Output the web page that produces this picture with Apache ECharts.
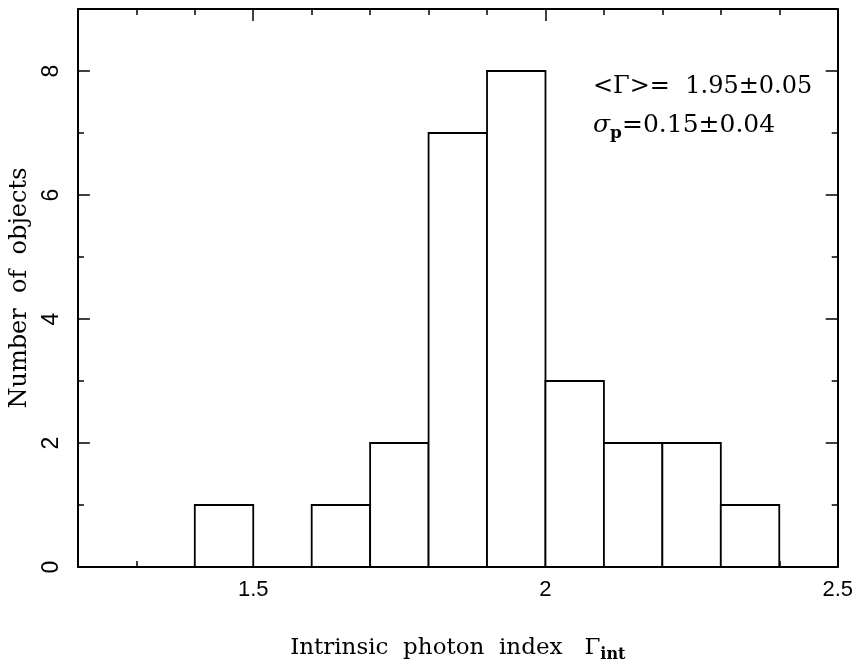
<!DOCTYPE html>
<html><head><meta charset="utf-8">
<script src="https://cdn.jsdelivr.net/npm/echarts@6/dist/echarts.min.js"></script>
<style>html,body{margin:0;padding:0;background:#fff}#c{width:856px;height:668px}</style>
</head><body><div id="c"></div>
<script>
const binLow = [1.4, 1.6, 1.7, 1.8, 1.9, 2.0, 2.1, 2.2, 2.3];
const binHigh = [1.5, 1.7, 1.8, 1.9, 2.0, 2.1, 2.2, 2.3, 2.4];
const counts = [1, 1, 2, 7, 8, 3, 2, 2, 1];
const xMajor = [1.5, 2, 2.5];
const xMinor = [1.3, 1.4, 1.6, 1.7, 1.8, 1.9, 2.1, 2.2, 2.3, 2.4];
const yMajor = [0, 2, 4, 6, 8];
const yMinor = [1, 3, 5, 7];
const xRange = [1.2, 2.5];
const yRange = [0, 9];

const chart = echarts.init(document.getElementById('c'));
const serif = '"DejaVu Serif", "Liberation Serif", serif';
const sans = '"Liberation Sans", Arial, sans-serif';
const lineStyle = {color:'#000', width:2};

function xAx(pos, ticks, len, showLine, label){
  return {
    type:'value', position:pos, min:xRange[0], max:xRange[1],
    axisLine:{show:showLine, onZero:false, lineStyle},
    axisTick:{show:true, inside:true, length:len, customValues:ticks, lineStyle:{color:'#000', width:1.5}},
    axisLabel: label ? {show:true, customValues:xMajor, margin:12, color:'#000', fontFamily:sans, fontSize:22,
       formatter: v => String(Math.round(v*10)/10)} : {show:false},
    splitLine:{show:false}
  };
}
function yAx(pos, ticks, len, showLine, label){
  return {
    type:'value', position:pos, min:yRange[0], max:yRange[1],
    axisLine:{show:showLine, onZero:false, lineStyle},
    axisTick:{show:true, inside:true, length:len, customValues:ticks, lineStyle:{color:'#000', width:1.5}},
    axisLabel: label ? {show:true, customValues:yMajor, rotate:90, margin:15, color:'#000', fontFamily:sans, fontSize:23} : {show:false},
    splitLine:{show:false}
  };
}

const xAxes = [xAx('bottom', xMinor, 6, true, true), xAx('bottom', xMajor, 12, false, false),
               xAx('top', xMinor, 6, true, false), xAx('top', xMajor, 12, false, false)];
xAxes[0].name = 'Intrinsic  photon  index   {g|Γ}{sub|int}';
xAxes[0].nameLocation = 'middle';
xAxes[0].nameGap = 66;
xAxes[0].nameTextStyle = {color:'#000', fontFamily:serif, fontSize:23,
  rich:{g:{fontFamily:serif, fontSize:23, color:'#000'},
        sub:{fontFamily:serif, fontSize:16, fontWeight:'bold', color:'#000', verticalAlign:'bottom', padding:[14,0,0,0]}}};
const yAxes = [yAx('left', yMinor, 6, true, true), yAx('left', yMajor, 12, false, false),
               yAx('right', yMinor, 6, true, false), yAx('right', yMajor, 12, false, false)];
yAxes[0].name = 'Number  of  objects';
yAxes[0].nameLocation = 'middle';
yAxes[0].nameGap = 41;
yAxes[0].nameTextStyle = {color:'#000', fontFamily:serif, fontSize:24};

const data = binLow.map((lo, i) => [lo, binHigh[i], counts[i]]);

chart.setOption({
  animation:false,
  backgroundColor:'#fff',
  grid:{left:77, right:18, top:9, bottom:100, containLabel:false},
  xAxis:xAxes,
  yAxis:yAxes,
  series:[{
    type:'custom', xAxisIndex:0, yAxisIndex:0, data,
    encode:{x:[0,1], y:2},
    renderItem(params, api){
      const p0 = api.coord([api.value(0), 0]);
      const p1 = api.coord([api.value(1), api.value(2)]);
      return {type:'rect', shape:{x:p0[0], y:p1[1], width:p1[0]-p0[0], height:p0[1]-p1[1]},
        style:{fill:'#fff', stroke:'#000', lineWidth:1.8}};
    }
  }],
  graphic:[
    {type:'text', left:593, top:75, style:{text:'<{g|Γ}>=  1.95±0.05', fill:'#000', font:'24px '+serif,
      rich:{g:{fontFamily:serif, fontSize:24, fill:'#000'}}}},
    {type:'text', left:593, top:113, style:{text:'{s|σ}{p|p}=0.15±0.04', fill:'#000', font:'25px '+serif,
      rich:{s:{fontFamily:serif, fontSize:25, fontStyle:'italic', fill:'#000'},
            p:{fontFamily:serif, fontSize:17, fontWeight:'bold', fill:'#000', padding:[16,0,0,0]}}}}
  ]
});
</script></body></html>
